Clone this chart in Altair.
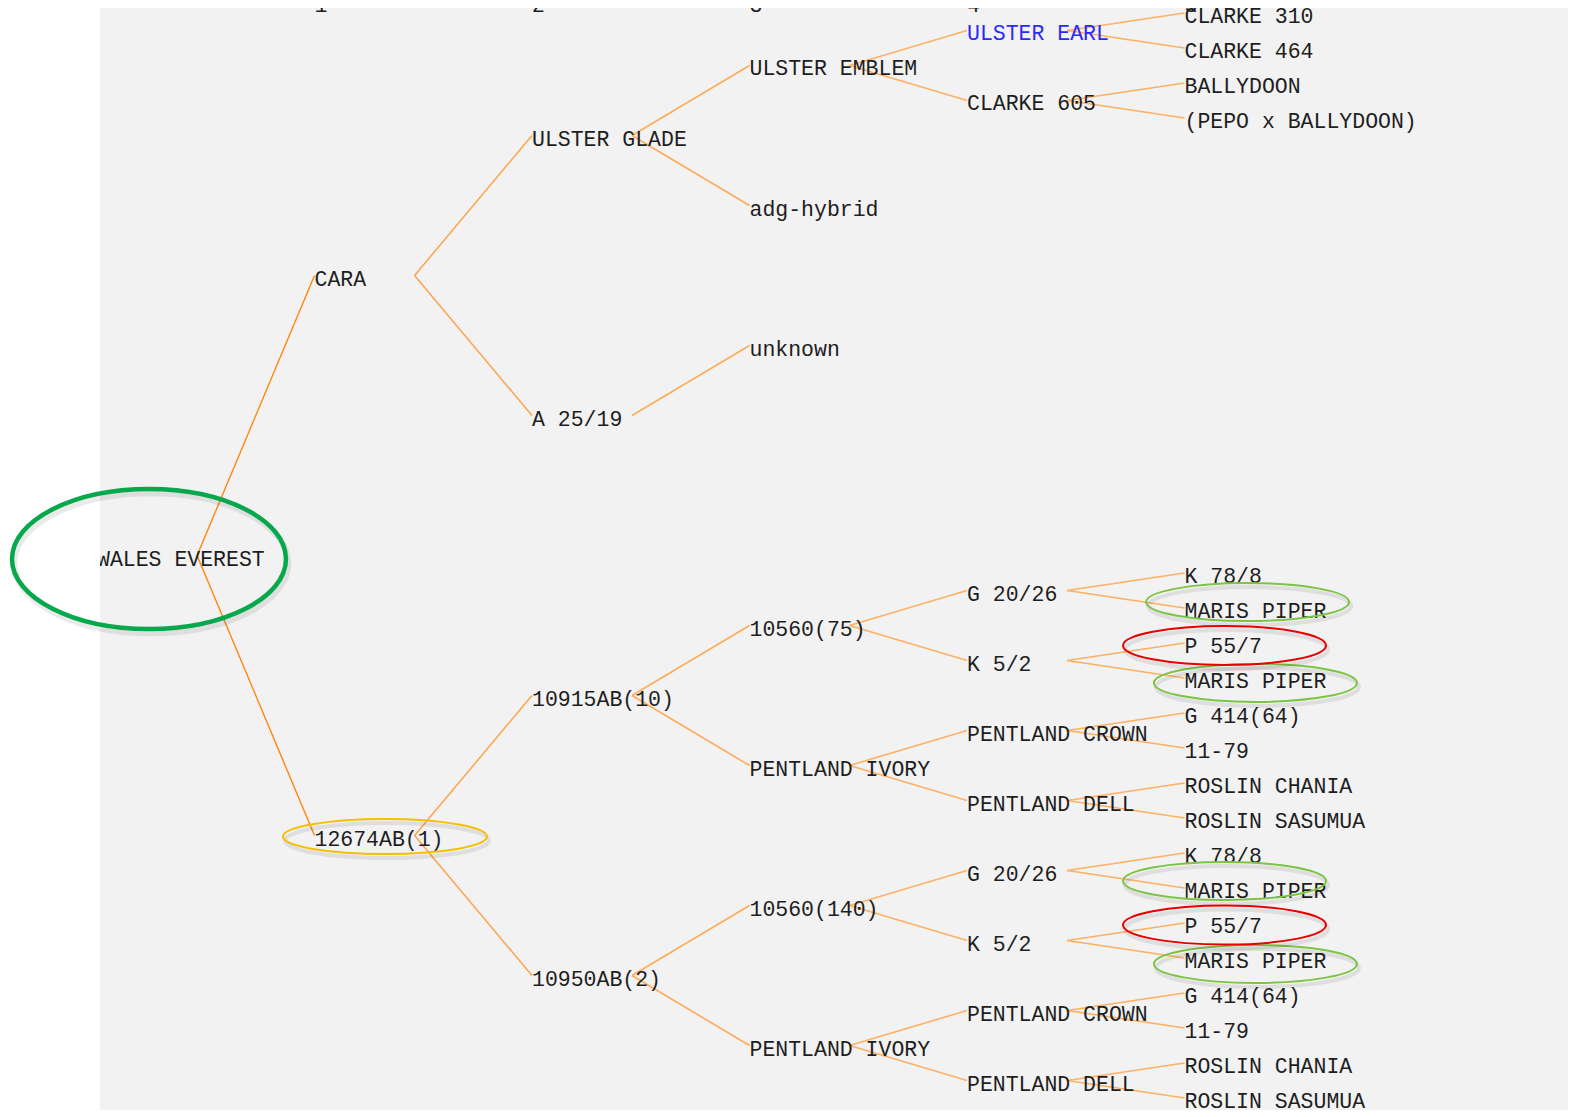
import altair as alt
import pandas as pd

# ---------------- pedigree (index in list = position in the pedigree, None = missing) ----
gen0 = ["WALES EVEREST"]
gen1 = ["CARA", "12674AB(1)"]
gen2 = ["ULSTER GLADE", "A 25/19", "10915AB(10)", "10950AB(2)"]
gen3 = ["ULSTER EMBLEM", "adg-hybrid", "unknown", None,
        "10560(75)", "PENTLAND IVORY", "10560(140)", "PENTLAND IVORY"]
gen4 = ["ULSTER EARL", "CLARKE 605", None, None, None, None, None, None,
        "G 20/26", "K 5/2", "PENTLAND CROWN", "PENTLAND DELL",
        "G 20/26", "K 5/2", "PENTLAND CROWN", "PENTLAND DELL"]
gen5 = ["CLARKE 310", "CLARKE 464", "BALLYDOON", "(PEPO x BALLYDOON)"] + [None] * 12 + [
        "K 78/8", "MARIS PIPER", "P 55/7", "MARIS PIPER",
        "G 414(64)", "11-79", "ROSLIN CHANIA", "ROSLIN SASUMUA",
        "K 78/8", "MARIS PIPER", "P 55/7", "MARIS PIPER",
        "G 414(64)", "11-79", "ROSLIN CHANIA", "ROSLIN SASUMUA"]
generations = [gen0, gen1, gen2, gen3, gen4, gen5]
linked_names = ["ULSTER EARL"]          # shown as hyperlink (blue)
column_labels = ["1", "2", "3", "4", "5"]

# annotation ellipses (hand drawn marks), centres in (generation, row) units
big_green_x, big_green_y = [0.239], [15.6]
yellow_x, yellow_y = [1.324], [23.53]
green_x = [5.290, 5.326, 5.184, 5.326]
green_y = [16.83, 19.14, 24.80, 27.17]
red_x = [5.184, 5.184]
red_y = [18.07, 26.06]

LEAVES = 32
LINK_OFFSET = 0.46  # lines leave a parent a fixed distance right of its label start

nodes, edges = [], []
for g, lst in enumerate(generations):
    span = LEAVES // (2 ** g)
    for p, name in enumerate(lst):
        if name is None:
            continue
        row = (p + 0.5) * span - 0.5
        nodes.append({"x": g, "y": row, "label": name,
                      "tcolor": "#2a2aff" if name in linked_names else "#1e1e1e"})
        if g > 0:
            pspan = LEAVES // (2 ** (g - 1))
            prow = (p // 2 + 0.5) * pspan - 0.5
            edges.append({"x0": g - 1 + LINK_OFFSET, "y0": prow, "x1": g, "y1": row, "lvl": g})

nodes_df = pd.DataFrame(nodes)
edges_df = pd.DataFrame(edges)
head_df = pd.DataFrame({"g": list(range(1, 6)), "label": column_labels})

W, H = 1468, 1102
xs = alt.Scale(domain=[0.013793, 6.763218], nice=False, zero=False)
ys = alt.Scale(domain=[-0.142857, 31.342857], nice=False, zero=False, reverse=True)
FONT = "Liberation Mono"
FSIZE = 21.5

grid_axis = alt.Axis(values=[0.45, 1.45, 2.45, 3.45, 4.45], grid=True, gridColor="#ffffff",
                     gridWidth=1.6, gridOpacity=1, labels=False, ticks=False, domain=False,
                     title=None)

edge_layer = alt.Chart(edges_df).mark_rule(clip=True, opacity=0.95).encode(
    x=alt.X("x0:Q", scale=xs, axis=grid_axis),
    x2="x1:Q",
    y=alt.Y("y0:Q", scale=ys, axis=None),
    y2="y1:Q",
    color=alt.Color("lvl:O", scale=alt.Scale(domain=[1, 2, 3, 4, 5],
                    range=["#ff8000", "#ff9e3d", "#ffa64f", "#ffac5a", "#ffac5a"]), legend=None),
    size=alt.Size("lvl:O", scale=alt.Scale(domain=[1, 2, 3, 4, 5],
                  range=[1.4, 1.7, 2.3, 2.7, 2.7]), legend=None),
)

text_layer = alt.Chart(nodes_df).mark_text(
    align="left", baseline="alphabetic", dx=0, dy=10, font=FONT, fontSize=FSIZE, clip=True
).encode(
    x=alt.X("x:Q", scale=xs, axis=None),
    y=alt.Y("y:Q", scale=ys, axis=None),
    text="label:N",
    color=alt.Color("tcolor:N", scale=None),
)

head_layer = alt.Chart(head_df).mark_text(
    align="left", baseline="alphabetic", font=FONT, fontSize=FSIZE, clip=True, color="#1e1e1e"
).encode(
    x=alt.X("g:Q", scale=xs, axis=None),
    y=alt.value(4),
    text="label:N",
)


def ellipse_path(a):
    k = 0.5523
    return (f"M -1 0 C -1 {-k*a:.4f} {-k:.4f} {-a:.4f} 0 {-a:.4f} "
            f"C {k:.4f} {-a:.4f} 1 {-k*a:.4f} 1 0 "
            f"C 1 {k*a:.4f} {k:.4f} {a:.4f} 0 {a:.4f} "
            f"C {-k:.4f} {a:.4f} -1 {k*a:.4f} -1 0 Z")


def ellipse_layers(xv, yv, rx, ry, color, sw):
    df = pd.DataFrame({"x": xv, "y": yv})
    shape = ellipse_path(ry / rx)
    size = 4 * rx * rx
    enc = dict(x=alt.X("x:Q", scale=xs, axis=None), y=alt.Y("y:Q", scale=ys, axis=None))
    shadow = alt.Chart(df).mark_point(
        shape=shape, size=size, filled=False, color="#000000", strokeWidth=sw + 2,
        opacity=0.08, xOffset=2, yOffset=4, clip=False
    ).encode(**enc)
    main = alt.Chart(df).mark_point(
        shape=shape, size=size, filled=False, color=color, strokeWidth=sw,
        opacity=1, clip=False
    ).encode(**enc)
    return [shadow, main]


ell = []
ell += ellipse_layers(big_green_x, big_green_y, 137, 70, "#06a84c", 4.5)
ell += ellipse_layers(yellow_x, yellow_y, 102, 17.5, "#f5bf00", 2)
ell += ellipse_layers(green_x, green_y, 101.5, 19, "#7cc444", 2)
ell += ellipse_layers(red_x, red_y, 101.5, 19.5, "#e80000", 2)

chart = alt.layer(edge_layer, text_layer, head_layer, *ell).properties(
    width=W, height=H,
    padding={"left": 92, "top": 0, "right": 0, "bottom": 0},
    autosize=alt.AutoSizeParams(type="none"),
).configure_view(fill="#f2f2f2", strokeWidth=0)

chart.save("out.html", embed_options={"renderer": "svg", "actions": False})
